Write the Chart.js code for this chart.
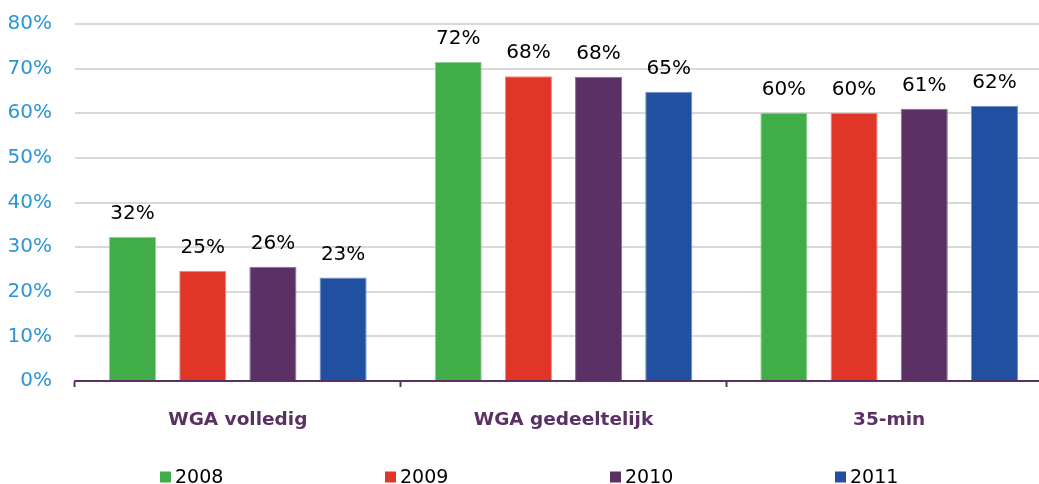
<!DOCTYPE html>
<html>
<head>
<meta charset="utf-8">
<script src="https://cdn.jsdelivr.net/npm/chart.js@4/dist/chart.umd.min.js"></script>
<style>
  html, body { margin: 0; padding: 0; background: #fff; overflow: hidden; }
  #wrap { position: relative; top: -11px; width: 1052px; height: 495px; }
</style>
</head>
<body>
<div id="wrap"><canvas id="barchart"></canvas></div>
<script>
const categories = ['WGA volledig', 'WGA gedeeltelijk', '35-min'];
const years = ['2008', '2009', '2010', '2011'];
const values2008 = [32.3, 71.5, 60.1];
const values2009 = [24.7, 68.3, 60.1];
const values2010 = [25.6, 68.2, 61.0];
const values2011 = [23.2, 64.8, 61.6];
const yTicks = [0, 10, 20, 30, 40, 50, 60, 70, 80];

const colors = ['#41ad49', '#e13527', '#5b3165', '#2250a0'];
const borders = ['#8fd095', '#f08a80', '#8c6a96', '#6f8fc9'];
const purple = '#5b3165';
const font = 'DejaVu Sans';

// value labels above bars
const valueLabels = {
  id: 'valueLabels',
  afterDatasetsDraw(chart) {
    const ctx = chart.ctx;
    ctx.save();
    ctx.font = '20px "' + font + '"';
    ctx.fillStyle = '#000';
    ctx.textAlign = 'center';
    ctx.textBaseline = 'middle';
    chart.data.datasets.forEach((ds, i) => {
      chart.getDatasetMeta(i).data.forEach((bar, j) => {
        ctx.fillText(Math.round(ds.data[j]) + '%', bar.x, bar.y - 23);
      });
    });
    ctx.restore();
  }
};

// wide spaced legend at the bottom
const bottomLegend = {
  id: 'bottomLegend',
  afterDraw(chart) {
    const ctx = chart.ctx;
    ctx.save();
    ctx.font = '19px "' + font + '"';
    ctx.textBaseline = 'middle';
    ctx.textAlign = 'left';
    chart.data.datasets.forEach((ds, i) => {
      const x = 160 + i * 225;
      const y = 488;
      ctx.fillStyle = ds.backgroundColor;
      ctx.fillRect(x, y - 5.5, 11, 11);
      ctx.fillStyle = '#000';
      ctx.fillText(ds.label, x + 15, y + 1);
    });
    ctx.restore();
  }
};

const seriesData = [values2008, values2009, values2010, values2011];

const ctx = document.getElementById('barchart').getContext('2d');
let barchart = new Chart(ctx, {
  type: 'bar',
  data: {
    labels: categories,
    datasets: years.map((y, i) => ({
      label: y,
      data: seriesData[i],
      backgroundColor: colors[i],
      borderColor: borders[i],
      borderWidth: 1,
      categoryPercentage: 0.862,
      barPercentage: 0.671
    }))
  },
  plugins: [valueLabels, bottomLegend],
  options: {
    responsive: true,
    maintainAspectRatio: false,
    animation: false,
    layout: { padding: { top: 1, left: 0, right: 0, bottom: 0 } },
    plugins: {
      legend: { display: false },
      tooltip: { enabled: false }
    },
    scales: {
      x: {
        afterFit: (s) => { s.height = 103; },
        grid: {
          offset: true,
          drawOnChartArea: false,
          drawTicks: true,
          tickLength: 6,
          tickWidth: 2,
          tickColor: purple
        },
        border: { color: purple, width: 2 },
        ticks: {
          padding: 22,
          color: purple,
          font: { family: font, size: 18.5, weight: 'bold' }
        }
      },
      y: {
        min: 0,
        max: 80,
        afterFit: (s) => { s.width = 75; },
        afterBuildTicks: (s) => { s.ticks = yTicks.map(v => ({ value: v })); },
        grid: { color: '#d9d9d9', lineWidth: 2, drawTicks: false },
        border: { display: false },
        ticks: {
          padding: 23,
          color: '#2a96d4',
          font: { family: font, size: 20 },
          callback: (v) => v + '%'
        }
      }
    }
  }
});
</script>
</body>
</html>
